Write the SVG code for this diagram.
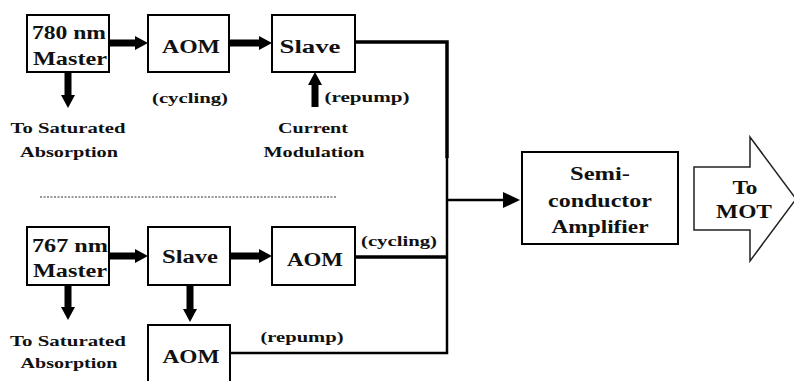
<svg xmlns="http://www.w3.org/2000/svg" width="794" height="381" viewBox="0 0 794 381">
  <defs>
    <style>
      .box { fill: #fff; stroke: #000; stroke-width: 2; }
      .t { font-weight: 700; fill: #111; text-anchor: middle; }
      .big { font-size: 18px; }
      .lbl { font-size: 15px; }
      .wire { fill: none; stroke: #000; }
      .fat { fill: #000; }
    </style>
  </defs>
  <rect width="794" height="381" fill="#fff"/>

  <!-- connectors -->
  <g id="connectors">
    <!-- 780 nm branch -->
    <polygon class="fat" points="109,39.5 135,39.5 135,36 148,43 135,50 135,46.5 109,46.5"/>
    <polygon class="fat" points="230,39.5 259,39.5 259,36 272,43 259,50 259,46.5 230,46.5"/>
    <polygon class="fat" points="64.5,72 71.5,72 71.5,95 75,95 68,108 61,95 64.5,95"/>
    <polygon class="fat" points="311.5,107 318.5,107 318.5,85 322,85 315,72 308,85 311.5,85"/>
    <!-- 767 nm branch -->
    <polygon class="fat" points="109,252.5 135,252.5 135,249 148,256 135,263 135,259.5 109,259.5"/>
    <polygon class="fat" points="230,252.5 259,252.5 259,249 272,256 259,263 259,259.5 230,259.5"/>
    <polygon class="fat" points="64.5,285 71.5,285 71.5,307 75,307 68,320 61,307 64.5,307"/>
    <polygon class="fat" points="186.5,285 193.5,285 193.5,309 197,309 190,322 183,309 186.5,309"/>
    <!-- combining bus -->
    <path class="wire" stroke-width="3.5" d="M355,42 H447 V158"/>
    <path class="wire" stroke-width="2.5" d="M447,157 V353 H230"/>
    <path class="wire" stroke-width="3.5" d="M355,257 H447"/>
    <path class="wire" stroke-width="2.5" d="M447,200 H506"/>
    <polygon class="fat" points="503,192 520,200 503,208"/>
    <!-- separator -->
    <line x1="40" y1="197" x2="336" y2="197" stroke="#777" stroke-width="1.5" stroke-dasharray="2 1.5"/>
  </g>

  <g font-family="Liberation Serif, Times New Roman, serif">
  <!-- 780 nm master laser -->
  <g id="master780">
    <rect class="box" x="27" y="15" width="82" height="57"/>
    <text class="t big" x="69" y="39" textLength="74" lengthAdjust="spacingAndGlyphs">780 nm</text>
    <text class="t big" x="70" y="65" textLength="74" lengthAdjust="spacingAndGlyphs">Master</text>
  </g>
  <g id="aom780">
    <rect class="box" x="148" y="15" width="81" height="57"/>
    <text class="t big" x="191" y="53" textLength="58" lengthAdjust="spacingAndGlyphs">AOM</text>
  </g>
  <g id="slave780">
    <rect class="box" x="272" y="15" width="83" height="57"/>
    <text class="t big" x="310" y="53" textLength="61" lengthAdjust="spacingAndGlyphs">Slave</text>
  </g>
  <g id="labels780">
    <text class="t lbl" x="190" y="103" textLength="76" lengthAdjust="spacingAndGlyphs">(cycling)</text>
    <text class="t lbl" x="367" y="102" textLength="85" lengthAdjust="spacingAndGlyphs">(repump)</text>
    <text class="t lbl" x="68" y="133" textLength="115" lengthAdjust="spacingAndGlyphs">To Saturated</text>
    <text class="t lbl" x="69" y="157" textLength="98" lengthAdjust="spacingAndGlyphs">Absorption</text>
    <text class="t lbl" x="313" y="133" textLength="70" lengthAdjust="spacingAndGlyphs">Current</text>
    <text class="t lbl" x="314" y="157" textLength="101" lengthAdjust="spacingAndGlyphs">Modulation</text>
  </g>

  <!-- 767 nm master laser -->
  <g id="master767">
    <rect class="box" x="27" y="227" width="82" height="58"/>
    <text class="t big" x="70" y="252" textLength="76" lengthAdjust="spacingAndGlyphs">767 nm</text>
    <text class="t big" x="70" y="277" textLength="74" lengthAdjust="spacingAndGlyphs">Master</text>
  </g>
  <g id="slave767">
    <rect class="box" x="148" y="227" width="82" height="58"/>
    <text class="t big" x="190" y="263" textLength="56" lengthAdjust="spacingAndGlyphs">Slave</text>
  </g>
  <g id="aomCycling767">
    <rect class="box" x="272" y="227" width="83" height="58"/>
    <text class="t big" x="315" y="266" textLength="56" lengthAdjust="spacingAndGlyphs">AOM</text>
  </g>
  <g id="aomRepump767">
    <rect class="box" x="148" y="325" width="82" height="70"/>
    <text class="t big" x="191" y="363" textLength="57" lengthAdjust="spacingAndGlyphs">AOM</text>
  </g>
  <g id="labels767">
    <text class="t lbl" x="399" y="246" textLength="76" lengthAdjust="spacingAndGlyphs">(cycling)</text>
    <text class="t lbl" x="302" y="342" textLength="83" lengthAdjust="spacingAndGlyphs">(repump)</text>
    <text class="t lbl" x="68" y="346" textLength="116" lengthAdjust="spacingAndGlyphs">To Saturated</text>
    <text class="t lbl" x="69" y="368" textLength="97" lengthAdjust="spacingAndGlyphs">Absorption</text>
  </g>

  <!-- amplifier -->
  <g id="amplifier">
    <rect class="box" x="522" y="152" width="156" height="92"/>
    <text class="t big" x="600" y="180" textLength="60" lengthAdjust="spacingAndGlyphs">Semi-</text>
    <text class="t big" x="600" y="207" textLength="104" lengthAdjust="spacingAndGlyphs">conductor</text>
    <text class="t big" x="600" y="233" textLength="97" lengthAdjust="spacingAndGlyphs">Amplifier</text>
  </g>

  <!-- output arrow -->
  <g id="toMOT">
    <polygon points="694,167 750,167 750,137 796,199 750,261 750,230 694,230" fill="#fff" stroke="#222" stroke-width="1.5"/>
    <text class="t big" x="745" y="194" textLength="25" lengthAdjust="spacingAndGlyphs">To</text>
    <text class="t big" x="744" y="218" textLength="56" lengthAdjust="spacingAndGlyphs">MOT</text>
  </g>
  </g>
</svg>
